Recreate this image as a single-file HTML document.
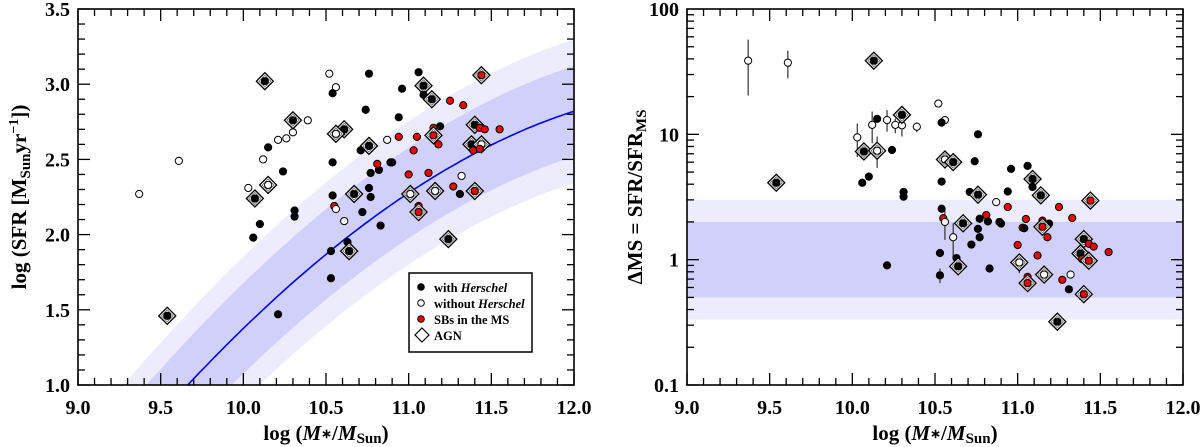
<!DOCTYPE html>
<html><head><meta charset="utf-8"><style>
html,body{margin:0;padding:0;background:#fff;width:1200px;height:447px;overflow:hidden;}
svg{display:block;font-family:"Liberation Serif",serif;font-weight:bold;}
</style></head><body>
<svg id="fig" width="1200" height="447" viewBox="0 0 1200 447" xmlns="http://www.w3.org/2000/svg"></svg>
<script>
// ---------- Left panel data: log M*, log SFR, type (f=with Herschel, o=without, r=SB in MS), agn flag ----------
const leftX = [9.37,9.61,9.54,10.13,10.07,10.15,10.03,10.12,10.15,10.10,10.06,10.21,10.24,10.21,10.26,10.30,10.39,10.30,10.31,10.31,
10.52,10.56,10.54,10.76,10.61,10.56,10.74,10.76,10.71,10.54,10.77,10.82,10.81,10.87,10.94,10.94,10.96,11.06,11.09,11.09,
11.14,11.25,11.33,11.19,11.15,11.15,11.05,11.18,11.03,10.89,10.90,11.00,11.12,10.76,10.77,10.54,10.67,10.55,10.56,10.61,
10.72,10.83,10.63,10.64,10.53,10.53,11.01,11.06,11.06,11.16,11.27,11.32,11.31,11.40,11.24,11.44,11.40,11.43,11.46,11.55,
11.38,11.44,11.39,11.43];
const leftY = [2.27,2.49,1.46,3.02,2.24,2.33,2.31,2.50,2.58,2.07,1.98,1.47,2.42,2.63,2.64,2.68,2.76,2.76,2.16,2.12,
3.07,2.98,2.94,3.07,2.70,2.67,2.83,2.59,2.56,2.48,2.41,2.43,2.47,2.63,2.78,2.65,2.97,3.08,2.99,2.93,
2.90,2.89,2.86,2.72,2.71,2.66,2.65,2.60,2.56,2.48,2.48,2.40,2.41,2.31,2.25,2.26,2.27,2.19,2.17,2.09,
2.15,2.06,1.95,1.89,1.89,1.71,2.27,2.19,2.15,2.29,2.32,2.39,2.27,2.29,1.97,3.06,2.73,2.71,2.70,2.70,
2.60,2.60,2.56,2.57];
const leftType = ["o","o","f","f","f","o","o","o","f","f","f","f","f","o","o","o","o","f","f","f",
"o","o","f","f","f","o","f","f","f","f","f","f","r","o","f","r","f","f","f","f",
"f","r","r","f","r","r","r","r","r","f","f","r","r","f","f","f","f","r","o","o",
"f","f","f","f","f","f","o","r","r","o","r","o","f","r","f","r","f","r","r","r",
"f","o","r","r"];
const leftAgn = [0,0,1,1,1,1,0,0,0,0,0,0,0,0,0,0,0,1,0,0,
0,0,0,0,1,1,0,1,0,0,0,0,0,0,0,0,0,0,1,0,
1,0,0,0,0,1,0,0,0,0,0,0,0,0,0,0,1,0,0,0,
0,0,0,1,0,0,1,0,1,1,0,0,0,1,1,1,1,0,0,0,
1,1,0,0];

// ---------- Right panel data: log M*, ΔMS, type, agn, error bars (lo, hi; 0 = none) ----------
const rightX = [9.37,9.61,10.13,9.54,10.52,10.56,10.54,10.03,10.15,10.12,10.21,10.26,10.30,10.39,10.30,10.07,10.15,10.24,10.06,10.10,
10.31,10.31,10.56,10.61,10.54,10.76,10.74,10.96,11.06,11.09,11.09,11.14,10.71,10.76,10.94,10.87,10.94,11.25,11.44,10.54,
10.55,10.56,10.67,10.81,10.77,10.82,10.89,10.90,11.05,11.33,11.15,11.19,11.15,11.03,11.04,10.76,10.61,10.77,11.18,10.72,
11.00,11.40,11.43,11.46,11.55,11.38,11.39,11.43,10.53,11.12,10.63,11.01,10.21,10.64,10.83,10.53,11.16,11.32,11.06,11.06,
11.27,11.31,11.40,11.24];
const rightY = [38.7,37.3,38.7,4.11,17.6,13.0,12.4,9.46,13.3,11.9,13.0,11.9,11.8,11.5,14.3,7.3,7.4,7.5,4.11,4.6,
3.47,3.18,6.3,6.0,4.2,10.0,6.1,5.3,5.6,4.4,3.8,3.26,3.47,3.3,3.5,2.88,2.63,2.63,2.96,2.55,
2.14,2.0,1.95,2.27,2.12,2.02,2.0,1.94,2.11,2.15,2.05,1.94,1.83,1.80,1.78,1.76,1.51,1.51,1.51,1.32,
1.31,1.46,1.34,1.27,1.15,1.12,1.01,0.98,1.13,1.08,1.03,0.95,0.90,0.885,0.85,0.75,0.76,0.76,0.73,0.65,
0.69,0.58,0.53,0.32];
const rightType = ["o","o","f","f","o","o","f","o","f","o","o","o","o","o","f","f","o","f","f","f",
"f","f","o","f","f","f","f","f","f","f","f","f","f","f","f","o","r","r","r","f",
"r","o","f","r","f","f","f","f","r","r","r","f","r","r","f","f","o","f","r","f",
"r","f","r","r","r","f","r","r","f","r","f","o","f","f","f","f","o","o","r","r",
"r","f","r","f"];
const rightAgn = [0,0,1,1,0,0,0,0,0,0,0,0,0,0,1,1,1,0,0,0,
0,0,1,1,0,0,0,0,0,1,0,1,0,1,0,0,0,0,1,0,
0,0,1,0,0,0,0,0,0,0,0,0,1,0,0,0,0,0,0,0,
0,1,0,0,0,1,0,1,0,0,0,1,0,1,0,0,1,0,0,1,
0,0,1,1];
const rightErrLo = [20.4,28.0,0,0,0,0,0,6.6,0,8.5,10.5,10.2,9.6,10.4,0,0,5.4,0,0,0,
0,0,0,0,0,0,0,0,0,0,0,0,0,0,0,0,0,0,0,0,
0,1.44,0,0,0,0,0,0,0,0,0,0,0,0,0,0,1.03,0,0,0,
0,0,0,0,0,0,0,0,0,0,0,0.78,0,0,0.81,0.65,0.66,0.72,0,0,
0,0,0,0];
const rightErrHi = [57,46.6,0,0,0,0,0,12.2,0,15.2,15.6,13.4,13.4,12.4,0,0,9.6,0,0,0,
0,0,0,0,0,0,0,0,0,0,0,0,0,0,0,0,0,0,0,0,
0,2.49,0,0,0,0,0,0,0,0,0,0,0,0,0,0,1.95,0,0,0,
0,0,0,0,0,0,0,0,0,0,0,1.08,0,0,0.89,0.85,0.87,0.82,0,0,
0,0,0,0];

const xTicks = ["9.0","9.5","10.0","10.5","11.0","11.5","12.0"];
const leftYTicks = ["1.0","1.5","2.0","2.5","3.0","3.5"];
const rightYTicks = ["0.1","1","10","100"];
const legendLabels = ["with ","without ","SBs in the MS","AGN"];

const NS = "http://www.w3.org/2000/svg";
const svg = document.getElementById("fig");
function mk(tag, attrs, parent){ const e=document.createElementNS(NS,tag); for(const k in attrs) e.setAttribute(k,attrs[k]); (parent||svg).appendChild(e); return e; }

// Geometry
const L = {x0:78, x1:574, y0:9, y1:385};
const R = {x0:687, x1:1183, y0:9, y1:385};
const xs = (P,v)=> P.x0 + (v-9)/3*(P.x1-P.x0);
const lys = v => L.y1 - (v-1)/2.5*(L.y1-L.y0);
const rys = v => R.y1 - (Math.log10(v)+1)/3*(R.y1-R.y0);

// ---- Left panel ----
const gL = mk("g",{});


const clipL = mk("clipPath",{id:"clipL"}); mk("rect",{x:L.x0,y:L.y0,width:L.x1-L.x0,height:L.y1-L.y0},clipL);
const ms = x => { const u=x-12; return 2.82 + 0.35*u - 0.2*u*u - 0.007*u*u*u; };
function bandPath(off){
  let top=[],bot=[];
  for(let x=9; x<=12.0001; x+=0.02){ top.push([xs(L,x),lys(ms(x)+off)]); bot.push([xs(L,x),lys(ms(x)-off)]); }
  let d="M"+top.map(p=>p[0].toFixed(1)+","+p[1].toFixed(1)).join("L");
  d+="L"+bot.reverse().map(p=>p[0].toFixed(1)+","+p[1].toFixed(1)).join("L")+"Z";
  return d;
}
const bandOuter = mk("path",{d:bandPath(0.477),fill:"#ececfd","clip-path":"url(#clipL)"},gL);


const bandInner = mk("path",{d:bandPath(0.301),fill:"#d0d0fb","clip-path":"url(#clipL)"},gL);


let dl=""; for(let x=9; x<=12.0001; x+=0.02){ dl+=(dl?"L":"M")+xs(L,x).toFixed(1)+","+lys(ms(x)).toFixed(1); }
const msLine = mk("path",{d:dl,fill:"none",stroke:"#0000ee","stroke-width":1.6,"clip-path":"url(#clipL)"},gL);



function drawPoint(g,cx,cy,type,agn){
  if(agn){
    const s=8.5;
    const d = mk("path",{d:`M${cx},${cy-s}L${cx+s},${cy}L${cx},${cy+s}L${cx-s},${cy}Z`,fill:"#fff",stroke:"#000","stroke-width":1.3},g);
    
    
    const s2=6;
    mk("path",{d:`M${cx},${cy-s2}L${cx+s2},${cy}L${cx},${cy+s2}L${cx-s2},${cy}Z`,fill:"none",stroke:"#555","stroke-width":0.7},g);
  }
  const fill = type==="f"?"#000":(type==="r"?"#ee0000":"#fff");
  const c = mk("circle",{cx:cx,cy:cy,r:3.6,fill:fill,stroke:"#000","stroke-width":1},g);
  
  
}
const ptsL = mk("g",{},gL);


for(let i=0;i<leftX.length;i++) drawPoint(ptsL,xs(L,leftX[i]),lys(leftY[i]),leftType[i],leftAgn[i]);

// ---- Right panel ----
const gR = mk("g",{});


const rb1 = mk("rect",{x:R.x0,y:rys(3),width:R.x1-R.x0,height:rys(1/3)-rys(3),fill:"#ececfd"},gR);


const rb2 = mk("rect",{x:R.x0,y:rys(2),width:R.x1-R.x0,height:rys(0.5)-rys(2),fill:"#d0d0fb"},gR);


const ptsR = mk("g",{},gR);


for(let i=0;i<rightX.length;i++){
  if(rightErrLo[i]>0){
    const eb = mk("line",{x1:xs(R,rightX[i]),x2:xs(R,rightX[i]),y1:rys(rightErrHi[i]),y2:rys(rightErrLo[i]),stroke:"#333","stroke-width":1.2},ptsR);
    
    
  }
}
for(let i=0;i<rightX.length;i++) drawPoint(ptsR,xs(R,rightX[i]),rys(rightY[i]),rightType[i],rightAgn[i]);

// ---- Axes ----
function tick(g,x1,y1,x2,y2){ mk("line",{x1,y1,x2,y2,stroke:"#000","stroke-width":1.3},g); }
function frame(P,name){
  const g=mk("g",{});
  
  
  mk("rect",{x:P.x0,y:P.y0,width:P.x1-P.x0,height:P.y1-P.y0,fill:"none",stroke:"#000","stroke-width":1.6},g);
  for(let k=0;k<=30;k++){
    const v=9+k*0.1, x=xs(P,v), len=(k%5===0)?12:7;
    tick(g,x,P.y1,x,P.y1-len); tick(g,x,P.y0,x,P.y0+len);
  }
  xTicks.forEach(t=>{
    const tx=mk("text",{x:xs(P,parseFloat(t)),y:414,"text-anchor":"middle","font-size":20},g);
    tx.textContent=t;
    
    
  });
  const xt=mk("text",{x:(P.x0+P.x1)/2,y:440,"text-anchor":"middle","font-size":21},g);
  xt.innerHTML='log (<tspan font-style="italic">M</tspan><tspan font-size="13" dy="-2">∗</tspan><tspan dy="2">/</tspan><tspan font-style="italic">M</tspan><tspan font-size="15" dy="3">Sun</tspan><tspan dy="-3">)</tspan>';
  
  
  return g;
}
const fL = frame(L,'left-axes');
for(let k=0;k<=25;k++){
  const v=1+k*0.1, y=lys(v), len=(k%5===0)?12:7;
  tick(fL,L.x0,y,L.x0+len,y); tick(fL,L.x1,y,L.x1-len,y);
}
leftYTicks.forEach(t=>{
  const tx=mk("text",{x:L.x0-8,y:lys(parseFloat(t))+7,"text-anchor":"end","font-size":20},fL);
  tx.textContent=t;
  
  
});
const ytL=mk("text",{transform:"translate(26,197) rotate(-90)","text-anchor":"middle","font-size":21},fL);
ytL.innerHTML='log (SFR [M<tspan font-size="15" dy="4">Sun</tspan><tspan dy="-4">yr</tspan><tspan font-size="14" dy="-8">−1</tspan><tspan dy="8">])</tspan>';



const fR = frame(R,'right-axes');
for(let d=-1; d<2; d++){
  for(let m=1;m<=9;m++){
    const v=m*Math.pow(10,d), y=rys(v), len=(m===1)?12:7;
    tick(fR,R.x0,y,R.x0+len,y); tick(fR,R.x1,y,R.x1-len,y);
  }
}
rightYTicks.forEach(t=>{
  const tx=mk("text",{x:R.x0-8,y:rys(parseFloat(t))+7,"text-anchor":"end","font-size":20},fR);
  tx.textContent=t;
  
  
});
const ytR=mk("text",{transform:"translate(642,197) rotate(-90)","text-anchor":"middle","font-size":21},fR);
ytR.innerHTML='ΔMS = SFR/SFR<tspan font-size="15" dy="4">MS</tspan>';



// ---- Legend ----
const lg = mk("g",{});


mk("rect",{x:409,y:273,width:123,height:79,fill:"#fff",stroke:"#000","stroke-width":1.5},lg);
const legTypes=["f","o","r","agn"];
legendLabels.forEach((lab,i)=>{
  const y=287+i*16;
  const e=mk("g",{},lg);
  
  
  if(legTypes[i]==="agn"){
    mk("path",{d:`M422,${y-7}L429,${y}L422,${y+7}L415,${y}Z`,fill:"#fff",stroke:"#000","stroke-width":1.2},e);
  } else {
    mk("circle",{cx:421,cy:y,r:3.3,fill:legTypes[i]==="f"?"#000":(legTypes[i]==="r"?"#ee0000":"#fff"),stroke:"#000","stroke-width":1},e);
  }
  const t=mk("text",{x:434,y:y+5,"font-size":12.5},e);
  t.textContent=lab;
  if(i<2){ const s=mk("tspan",{"font-style":"italic"},t); s.textContent="Herschel"; }
});
</script>
</body></html>
